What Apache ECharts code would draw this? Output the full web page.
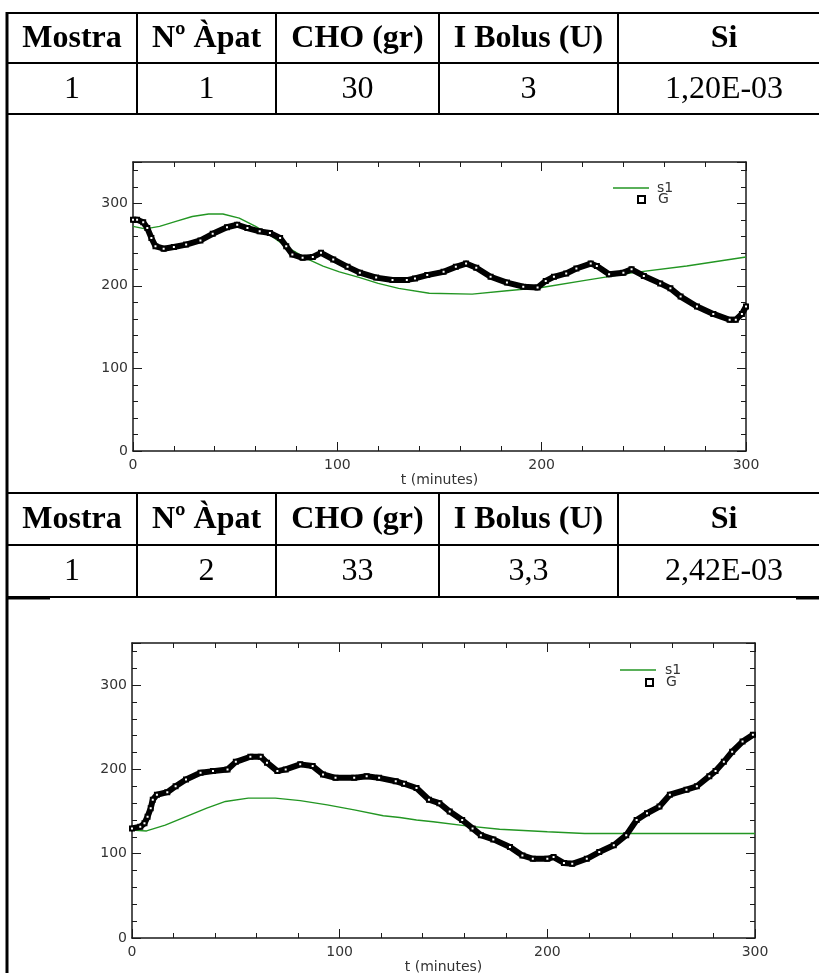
<!DOCTYPE html>
<html><head><meta charset="utf-8">
<script src="https://cdn.jsdelivr.net/npm/echarts@6/dist/echarts.min.js"></script>
<style>html,body{margin:0;padding:0;background:#fff}#c{width:819px;height:973px}</style>
</head><body><div id="c"></div>
<script>
// ---------- data ----------
const headers = ['Mostra', 'Nº Àpat', 'CHO (gr)', 'I Bolus (U)', 'Si'];
const meal1Row = ['1', '1', '30', '3', '1,20E-03'];
const meal2Row = ['1', '2', '33', '3,3', '2,42E-03'];
const xTicks = [0, 100, 200, 300];
const yTicks = [0, 100, 200, 300];
const yMax = 350;
const seriesNames = ['s1', 'G'];
const xName = 't (minutes)';

const meal1G = [[0,280],[2,280],[5,277],[7,270],[9,258],[11,248],[15,245],[20,247],[26,250],[33,255],[39,263],[46,271],[51,274],[56,270],[62,266],[67,264],[72,258],[75,248],[78,238],[83,234],[88,235],[92,240],[98,232],[105,223],[111,216],[119,210],[127,207],[134,207],[138,209],[144,213],[152,217],[158,223],[163,227],[168,222],[175,211],[183,204],[191,199],[198,198],[202,206],[206,211],[212,215],[217,221],[224,227],[227,224],[233,214],[240,216],[244,220],[250,212],[258,203],[263,197],[268,187],[276,175],[284,166],[292,159],[295,159],[298,166],[300,175]];
const meal1S1 = [[0,272],[6,269],[13,272],[21,278],[29,284],[37,287],[44,287],[52,282],[60,272],[68,260],[76,246],[85,233],[93,224],[101,217],[111,210],[120,203],[130,197],[145,191],[166,190],[183,194],[200,198],[222,207],[245,216],[271,224],[300,235]];
const meal2G = [[0,130],[4,132],[6,136],[7.5,144],[9,154],[10,164],[12,170],[17,173],[21,180],[26,188],[33,196],[39,198],[46,200],[50,209],[57,215],[62,215],[65,208],[70,198],[74,200],[81,206],[87,204],[92,194],[98,190],[107,190],[113,192],[119,190],[127,186],[131,183],[137,178],[143,164],[148,160],[153,150],[159,140],[164,130],[168,122],[174,117],[182,108],[188,98],[193,94],[200,94],[203,96],[208,89],[212,88],[219,94],[225,102],[232,110],[238,122],[243,140],[248,148],[254,156],[259,170],[267,176],[272,180],[278,192],[281,198],[285,209],[289,221],[294,233],[299,241]];
const meal2S1 = [[0,128],[7,127],[16,134],[26,144],[36,154],[45,162],[56,166],[69,166],[81,163],[94,158],[107,152],[121,145],[129,143],[137,140],[145,138],[161,133],[177,129],[200,126],[218,124],[257,124],[300,124]];

// ---------- layout ----------
const W = 819, H = 973;
const colEdges = [7, 137, 276, 439, 618, 830];
const tables = [
  {top: 13, mid: 63, bottom: 114, row: meal1Row},
  {top: 493, mid: 545, bottom: 597, row: meal2Row}
];
const grids = [
  {left: 133, top: 162, width: 613, height: 289, outerBoundsMode: 'none', containLabel: false},
  {left: 132, top: 643, width: 623, height: 295, outerBoundsMode: 'none', containLabel: false}
];
const frameColor = '#1a1a1a';
const labelFont = {fontFamily: 'DejaVu Sans', fontSize: 14, color: '#333'};

// ---------- table graphics ----------
const gEls = [];
function hline(x1, x2, y, w) { gEls.push({type: 'line', silent: true, shape: {x1, y1: y, x2, y2: y}, style: {stroke: '#000', lineWidth: w}}); }
function vline(x, y1, y2, w) { gEls.push({type: 'line', silent: true, shape: {x1: x, y1, x2: x, y2}, style: {stroke: '#000', lineWidth: w}}); }
function cellText(txt, i, y, bold) {
  gEls.push({type: 'text', silent: true, style: {
    text: txt, x: (colEdges[i] + colEdges[i + 1]) / 2, y: y, align: 'center', verticalAlign: 'middle',
    fontFamily: 'Liberation Serif', fontWeight: bold ? 'bold' : 'normal', fontSize: 32, fill: '#000'}});
}
tables.forEach(t => {
  hline(7, W, t.top, 2); hline(7, W, t.mid, 2); hline(7, W, t.bottom, 2);
  for (let i = 1; i < colEdges.length - 1; i++) vline(colEdges[i], t.top, t.bottom, 2);
  headers.forEach((h, i) => cellText(h, i, (t.top + t.mid) / 2 + 1, true));
  t.row.forEach((v, i) => cellText(v, i, (t.mid + t.bottom) / 2 + 1, false));
});
vline(7, 12, H, 3);
hline(7, 50, 598, 3);
hline(796, W, 598, 3);

// ---------- axes ----------
const xAxis = [], yAxis = [];
function tickAxisBase(gi) {
  return {type: 'value', gridIndex: gi, splitLine: {show: false}, splitArea: {show: false}, silent: true};
}
grids.forEach((g, gi) => {
  const xmin = xTicks[0], xmax = xTicks[xTicks.length - 1];
  ['bottom', 'top'].forEach(pos => {
    xAxis.push(Object.assign(tickAxisBase(gi), {
      position: pos, min: xmin, max: xmax, interval: 100,
      axisLine: {show: true, onZero: false, lineStyle: {color: frameColor, width: 1.5}},
      axisTick: {show: true, inside: true, length: 9, lineStyle: {color: frameColor, width: 1}},
      axisLabel: pos === 'bottom' ? Object.assign({show: true, margin: 7, showMinLabel: true, showMaxLabel: true,
        formatter: v => xTicks.includes(v) ? String(v) : ''}, labelFont) : {show: false},
      name: pos === 'bottom' ? xName : '', nameLocation: 'middle', nameGap: 22,
      nameTextStyle: {fontFamily: 'DejaVu Sans', fontSize: 14, color: '#333'}
    }));
    xAxis.push(Object.assign(tickAxisBase(gi), {
      position: pos, min: xmin, max: xmax, interval: 20,
      axisLine: {show: false, onZero: false},
      axisTick: {show: true, inside: true, length: 5, lineStyle: {color: frameColor, width: 1}},
      axisLabel: {show: false}
    }));
  });
  ['left', 'right'].forEach(pos => {
    yAxis.push(Object.assign(tickAxisBase(gi), {
      position: pos, min: 0, max: yMax, interval: 100,
      axisLine: {show: true, onZero: false, lineStyle: {color: frameColor, width: 1.5}},
      axisTick: {show: true, inside: true, length: 9, lineStyle: {color: frameColor, width: 1}},
      axisLabel: pos === 'left' ? Object.assign({show: true, margin: 5, showMaxLabel: true,
        formatter: v => yTicks.includes(v) ? String(v) : ''}, labelFont) : {show: false}
    }));
    yAxis.push(Object.assign(tickAxisBase(gi), {
      position: pos, min: 0, max: yMax, interval: 20,
      axisLine: {show: false, onZero: false},
      axisTick: {show: true, inside: true, length: 5, lineStyle: {color: frameColor, width: 1}},
      axisLabel: {show: false}
    }));
  });
});

// ---------- series ----------
const green = '#239623';
const series = [];
[[meal1S1, meal1G], [meal2S1, meal2G]].forEach((d, gi) => {
  series.push({type: 'line', name: seriesNames[0], xAxisIndex: gi * 4, yAxisIndex: gi * 4,
    data: d[0], symbol: 'none', showSymbol: false, smooth: false,
    lineStyle: {color: green, width: 1.4}, itemStyle: {color: green}, z: 2});
  series.push({type: 'line', name: seriesNames[1], xAxisIndex: gi * 4, yAxisIndex: gi * 4,
    data: d[1], symbol: 'emptyRect', symbolSize: 4, showSymbol: true, showAllSymbol: true,
    lineStyle: {color: '#000', width: 6, join: 'round', cap: 'round'}, itemStyle: {color: '#000', borderColor: '#000', borderWidth: 2}, z: 3});
});

const legendText = {fontFamily: 'DejaVu Sans', fontSize: 14, color: '#333'};
const legend = [
  {data: [{name: 's1', icon: 'rect'}], left: 613, top: 181, itemWidth: 36, itemHeight: 1.5, symbolKeepAspect: false, padding: 0, selectedMode: false, textStyle: Object.assign({padding: [0, 0, 0, 3]}, legendText)},
  {data: [{name: 'G', icon: 'emptyRect'}], left: 637, top: 192.5, itemWidth: 7, itemHeight: 7, symbolKeepAspect: true, padding: 0, selectedMode: false, textStyle: Object.assign({padding: [0, 0, 0, 8]}, legendText)},
  {data: [{name: 's1', icon: 'rect'}], left: 620, top: 663, itemWidth: 36, itemHeight: 1.5, symbolKeepAspect: false, padding: 0, selectedMode: false, textStyle: Object.assign({padding: [0, 0, 0, 4]}, legendText)},
  {data: [{name: 'G', icon: 'emptyRect'}], left: 645, top: 675.5, itemWidth: 7, itemHeight: 7, symbolKeepAspect: true, padding: 0, selectedMode: false, textStyle: Object.assign({padding: [0, 0, 0, 8]}, legendText)}
];

const chart = echarts.init(document.getElementById('c'), null, {renderer: 'canvas', width: W, height: H});
chart.setOption({
  animation: false,
  backgroundColor: '#fff',
  grid: grids,
  xAxis: xAxis,
  yAxis: yAxis,
  legend: legend,
  series: series,
  graphic: {elements: gEls}
});
</script></body></html>
